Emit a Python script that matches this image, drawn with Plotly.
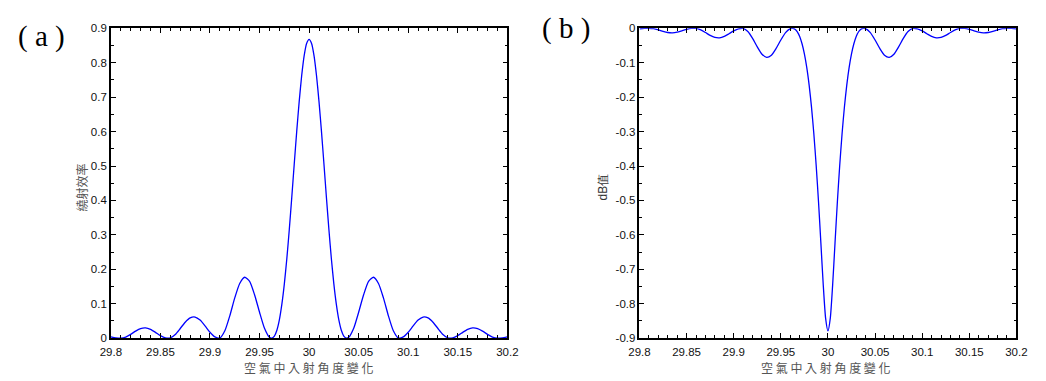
import plotly.graph_objects as go

# ---- data ----
angles = [29.8, 29.805, 29.81, 29.815, 29.82, 29.825, 29.83, 29.835, 29.84, 29.845,
          29.85, 29.855, 29.86, 29.865, 29.87, 29.875, 29.88, 29.885, 29.89, 29.895,
          29.9, 29.905, 29.91, 29.915, 29.92, 29.925, 29.93, 29.935, 29.94, 29.945,
          29.95, 29.955, 29.96, 29.9625, 29.965, 29.9675, 29.97, 29.9725, 29.975, 29.9775,
          29.98, 29.9825, 29.985, 29.9875, 29.99, 29.9925, 29.995, 29.9975, 30.0,
          30.0025, 30.005, 30.0075, 30.01, 30.0125, 30.015, 30.0175, 30.02, 30.0225,
          30.025, 30.0275, 30.03, 30.0325, 30.035, 30.0375, 30.04, 30.045, 30.05, 30.055,
          30.06, 30.065, 30.07, 30.075, 30.08, 30.085, 30.09, 30.095, 30.1, 30.105,
          30.11, 30.115, 30.12, 30.125, 30.13, 30.135, 30.14, 30.145, 30.15, 30.155,
          30.16, 30.165, 30.17, 30.175, 30.18, 30.185, 30.19, 30.195, 30.2]

efficiency = [0.004, 0.001, 0.0, 0.0031, 0.0111, 0.0207, 0.028, 0.0299, 0.0256, 0.017,
              0.0075, 0.0011, 0.0009, 0.0108, 0.0282, 0.0465, 0.0591, 0.0615, 0.0526, 0.0358,
              0.0172, 0.0037, 0.0006, 0.0215, 0.065, 0.117, 0.159, 0.177, 0.165, 0.126,
              0.0755, 0.0288, 0.0025, 0.0002, 0.0062, 0.0231, 0.053, 0.098, 0.157, 0.230,
              0.315, 0.408, 0.505, 0.600, 0.687, 0.762, 0.820, 0.856, 0.868,
              0.856, 0.820, 0.762, 0.687, 0.600, 0.505, 0.408, 0.315, 0.230,
              0.157, 0.098, 0.053, 0.0231, 0.0062, 0.0002, 0.0025, 0.0288, 0.0755, 0.126,
              0.165, 0.177, 0.159, 0.117, 0.065, 0.0215, 0.0006, 0.0037, 0.0172, 0.0358,
              0.0526, 0.0615, 0.0591, 0.0465, 0.0282, 0.0108, 0.0009, 0.0011, 0.0075, 0.017,
              0.0256, 0.0299, 0.028, 0.0207, 0.0111, 0.0031, 0.0, 0.001, 0.004]

db_value = [-0.0017, -0.0004, 0.0, -0.0013, -0.0048, -0.0091, -0.0123, -0.0132, -0.0113, -0.0074,
            -0.0033, -0.0005, -0.0004, -0.0047, -0.0124, -0.0207, -0.0264, -0.0276, -0.0235, -0.0158,
            -0.0075, -0.0016, -0.0003, -0.0094, -0.0292, -0.0540, -0.0752, -0.0846, -0.0783, -0.0586,
            -0.0341, -0.0127, -0.0011, -0.0001, -0.0027, -0.0101, -0.0237, -0.0448, -0.0742, -0.1135,
            -0.1643, -0.2277, -0.3054, -0.3979, -0.5045, -0.6234, -0.7447, -0.8416, -0.879,
            -0.8416, -0.7447, -0.6234, -0.5045, -0.3979, -0.3054, -0.2277, -0.1643, -0.1135,
            -0.0742, -0.0448, -0.0237, -0.0101, -0.0027, -0.0001, -0.0011, -0.0127, -0.0341, -0.0586,
            -0.0783, -0.0846, -0.0752, -0.0540, -0.0292, -0.0094, -0.0003, -0.0016, -0.0075, -0.0158,
            -0.0235, -0.0276, -0.0264, -0.0207, -0.0124, -0.0047, -0.0004, -0.0005, -0.0033, -0.0074,
            -0.0113, -0.0132, -0.0123, -0.0091, -0.0048, -0.0013, 0.0, -0.0004, -0.0017]

x_tickvals = [29.8, 29.85, 29.9, 29.95, 30.0, 30.05, 30.1, 30.15, 30.2]
x_ticktext = ["29.8", "29.85", "29.9", "29.95", "30", "30.05", "30.1", "30.15", "30.2"]
ya_tickvals = [0, 0.1, 0.2, 0.3, 0.4, 0.5, 0.6, 0.7, 0.8, 0.9]
ya_ticktext = ["0", "0.1", "0.2", "0.3", "0.4", "0.5", "0.6", "0.7", "0.8", "0.9"]
yb_tickvals = [0, -0.1, -0.2, -0.3, -0.4, -0.5, -0.6, -0.7, -0.8, -0.9]
yb_ticktext = ["0", "-0.1", "-0.2", "-0.3", "-0.4", "-0.5", "-0.6", "-0.7", "-0.8", "-0.9"]

x_title = "空 氣 中 入 射 角 度 變 化"
ya_title = "繞射效率"
yb_title = "dB值"
panel_labels = ["( a )", "( b )"]

# ---- figure ----
W, H = 1046, 381
fig = go.Figure()
line = dict(color="#0000ff", width=1.3, shape="spline", smoothing=0.6)
fig.add_trace(go.Scatter(x=angles, y=efficiency, mode="lines", line=line,
                         xaxis="x", yaxis="y", showlegend=False, hoverinfo="skip"))
fig.add_trace(go.Scatter(x=angles, y=db_value, mode="lines", line=line,
                         xaxis="x2", yaxis="y2", showlegend=False, hoverinfo="skip"))

tickfont = dict(family="Liberation Sans", size=11.5, color="#111")

def xaxis(domain, anchor):
    return dict(domain=domain, anchor=anchor, range=[29.8, 30.2],
                tickvals=x_tickvals, ticktext=x_ticktext, ticks="inside", ticklen=5,
                tickcolor="black", tickwidth=1, mirror="ticks", showline=True,
                linecolor="black", linewidth=1.5, showgrid=False, zeroline=False,
                tickfont=tickfont, ticklabelstandoff=2,
                minor=dict(dtick=0.01, tick0=29.8, ticks="inside", ticklen=3,
                           tickcolor="black", showgrid=False))

def yaxis(domain, anchor, rng, tv, tt):
    return dict(domain=domain, anchor=anchor, range=rng,
                tickvals=tv, ticktext=tt, ticks="inside", ticklen=5,
                tickcolor="black", tickwidth=1, mirror="ticks", showline=True,
                linecolor="black", linewidth=1.5, showgrid=False, zeroline=False,
                tickfont=tickfont,
                minor=dict(dtick=0.05, tick0=0, ticks="inside", ticklen=3,
                           tickcolor="black", showgrid=False))

ydom = [1 - 343 / H, 1 - 23 / H]
fig.update_layout(
    width=W, height=H, margin=dict(l=0, r=0, t=0, b=0),
    paper_bgcolor="white", plot_bgcolor="white",
    xaxis=xaxis([102 / W, 507 / W], "y"),
    yaxis=yaxis(ydom, "x", [0, 0.9], ya_tickvals, ya_ticktext),
    xaxis2=xaxis([642 / W, 1027 / W], "y2"),
    yaxis2=yaxis(ydom, "x2", [-0.9, 0], yb_tickvals, yb_ticktext),
)

cjk = "Noto Sans CJK TC"
ann = [
    dict(text=x_title, x=304 / W, y=1 - 373.5 / H, font=dict(family=cjk, size=12, color="#555")),
    dict(text=x_title, x=833 / W, y=1 - 373.5 / H, font=dict(family=cjk, size=12, color="#555")),
    dict(text=ya_title, x=72 / W, y=1 - 187 / H, textangle=-90,
         font=dict(family=cjk, size=12, color="#555")),
    dict(text=yb_title, x=605 / W, y=1 - 187 / H, textangle=-90,
         font=dict(family="Liberation Sans", size=12, color="#333")),
    dict(text=panel_labels[0], x=31 / W, y=1 - 31 / H,
         font=dict(family="Liberation Serif", size=29, color="black")),
    dict(text=panel_labels[1], x=567 / W, y=1 - 23 / H,
         font=dict(family="Liberation Serif", size=29, color="black")),
]
for a in ann:
    a.update(xref="paper", yref="paper", showarrow=False, xanchor="center", yanchor="middle")
    fig.add_annotation(**a)

fig.write_html("out.html")
